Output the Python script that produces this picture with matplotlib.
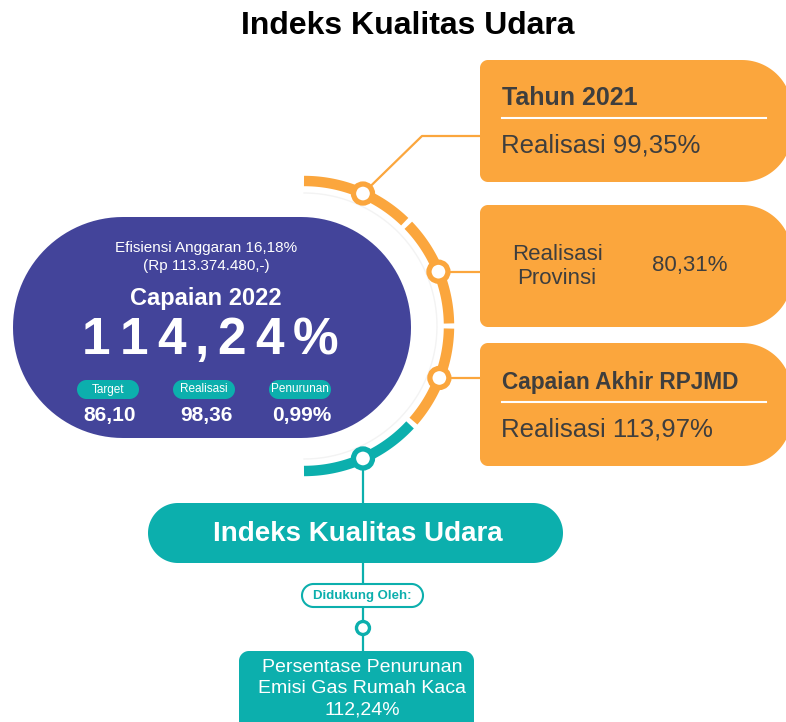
import numpy as np
from matplotlib import pyplot as plt
from matplotlib.patches import Polygon, Circle

plt.rcParams['font.family'] = ['Liberation Sans', 'DejaVu Sans']

# ---- data ----
title = "Indeks Kualitas Udara"
efisiensi_pct = "16,18%"
efisiensi_rp = "113.374.480"
capaian_year = 2022
capaian_value = "114,24%"
sub_labels = ["Target", "Realisasi", "Penurunan"]
sub_values = ["86,10", "98,36", "0,99%"]
realisasi_2021 = "99,35%"
realisasi_provinsi = "80,31%"
realisasi_rpjmd = "113,97%"
pendukung_lines = ["Persentase Penurunan", "Emisi Gas Rumah Kaca"]
pendukung_value = "112,24%"

BLUE = '#43449A'
ORANGE = '#FBA63D'
TEAL = '#0CAFAD'
DARK = '#3E3E3E'


def rbox(x0, y0, x1, y1, r, **kw):
    # rounded box in pixel coords (y down), r = (tl, tr, br, bl)
    tl, tr, br, bl = r
    pts = []

    def arc(cx, cy, rad, a0, a1):
        t = np.radians(np.linspace(a0, a1, 30))
        return list(zip(cx + rad * np.cos(t), cy + rad * np.sin(t)))

    pts += arc(x0 + tl, y0 + tl, tl, 180, 270)
    pts += arc(x1 - tr, y0 + tr, tr, 270, 360)
    pts += arc(x1 - br, y1 - br, br, 0, 90)
    pts += arc(x0 + bl, y1 - bl, bl, 90, 180)
    return Polygon(pts, closed=True, **kw)


fig = plt.figure(figsize=(7.86, 7.22), dpi=100)
ax = fig.add_axes([0, 0, 1, 1])
ax.set_xlim(0, 786)
ax.set_ylim(722, 0)
ax.axis('off')

ax.text(408, 26, title, ha='center', va='center', fontsize=23, fontweight='bold', color='black')

# ---- ring ----
cx, cy, R = 304, 326, 145


def on_ring(a, rad=R):
    t = np.radians(a)
    return cx + rad * np.cos(t), cy - rad * np.sin(t)


t = np.radians(np.linspace(-90, 90, 200))
ax.plot(cx + 133 * np.cos(t), cy - 133 * np.sin(t), color='#F3F3F3', lw=1, zorder=1)

segments = [(90, 46, ORANGE), (44, 1, ORANGE), (-1, -41, ORANGE), (-43, -90, TEAL)]
for a0, a1, col in segments:
    aa = np.linspace(a0, a1, 60)
    xs, ys = on_ring(aa)
    ax.plot(xs, ys, color=col, lw=7.5, solid_capstyle='butt', zorder=3)

# connectors
n1, n2, n3, n4 = on_ring(66), on_ring(22), on_ring(-21), on_ring(-66)
ax.plot([n1[0], 422, 480], [n1[1], 136, 136], color=ORANGE, lw=1.6, zorder=2)
ax.plot([n2[0], 480], [n2[1], n2[1]], color=ORANGE, lw=1.6, zorder=2)
ax.plot([n3[0], 480], [n3[1], n3[1]], color=ORANGE, lw=1.6, zorder=2)
ax.plot([n4[0], n4[0]], [n4[1], 655], color=TEAL, lw=1.6, zorder=2)

for (x, y), col in zip([n1, n2, n3, n4], [ORANGE, ORANGE, ORANGE, TEAL]):
    ax.add_patch(Circle((x, y), 9.5, facecolor='white', edgecolor=col, lw=3.8, zorder=4))

# ---- blue capsule ----
ax.add_patch(rbox(13, 217, 411, 438, (110, 110, 110, 110), facecolor=BLUE, edgecolor='none', zorder=5))
ax.text(206, 248, "Efisiensi Anggaran " + efisiensi_pct, ha='center', va='center',
        fontsize=11, color='white', zorder=6)
ax.text(206, 266, "(Rp " + efisiensi_rp + ",-)", ha='center', va='center',
        fontsize=11, color='white', zorder=6)
ax.text(206, 299, "Capaian %d" % capaian_year, ha='center', va='center',
        fontsize=17, fontweight='bold', color='white', zorder=6)

# big number with letter spacing
renderer = fig.canvas.get_renderer()
parts = []
for ch in capaian_value:
    tx = ax.text(0, 341, ch, ha='left', va='center', fontsize=37, fontweight='bold',
                 color='white', zorder=6)
    parts.append((tx, tx.get_window_extent(renderer).width))
spacing = 9
total = sum(w for _, w in parts) + spacing * (len(parts) - 1)
x = 210 - total / 2
for tx, w in parts:
    tx.set_x(x)
    x += w + spacing

for i, (lab, val) in enumerate(zip(sub_labels, sub_values)):
    px = 108 + i * 96
    ax.add_patch(rbox(px - 31, 380, px + 31, 399, (9.5,) * 4, facecolor=TEAL, edgecolor='none', zorder=6))
    ax.text(px, 389.5, lab, ha='center', va='center', fontsize=8.5, color='white', zorder=7)
    ax.text(px + 2, 416, val, ha='center', va='center', fontsize=15, fontweight='bold',
            color='white', zorder=7)

# ---- orange boxes ----
for y0, y1 in [(60, 182), (205, 327), (343, 466)]:
    ax.add_patch(rbox(480, y0, 792, y1, (8, 50, 50, 8), facecolor=ORANGE, edgecolor='none', zorder=5))

ax.text(502, 98, "Tahun 2021", ha='left', va='center', fontsize=18, fontweight='bold', color=DARK, zorder=6)
ax.plot([502, 766], [118, 118], color='white', lw=1.5, zorder=6)
ax.text(501, 145, "Realisasi " + realisasi_2021, ha='left', va='center', fontsize=18.5, color=DARK, zorder=6)

ax.text(557, 255, "Realisasi", ha='center', va='center', fontsize=16, color=DARK, zorder=6)
ax.text(557, 278, "Provinsi", ha='center', va='center', fontsize=16, color=DARK, zorder=6)
ax.text(690, 265, realisasi_provinsi, ha='center', va='center', fontsize=16, color=DARK, zorder=6)

ax.text(502, 383, "Capaian Akhir RPJMD", ha='left', va='center', fontsize=16.3, fontweight='bold',
        color=DARK, zorder=6)
ax.plot([502, 766], [402, 402], color='white', lw=1.5, zorder=6)
ax.text(501, 429, "Realisasi " + realisasi_rpjmd, ha='left', va='center', fontsize=18.5, color=DARK, zorder=6)

# ---- bottom part ----
ax.add_patch(rbox(148, 503, 563, 563, (30,) * 4, facecolor=TEAL, edgecolor='none', zorder=5))
ax.text(358, 534, title, ha='center', va='center', fontsize=20, fontweight='bold', color='white', zorder=6)

ax.add_patch(rbox(302, 584, 423, 607, (11.5,) * 4, facecolor='white', edgecolor=TEAL, lw=1.5, zorder=5))
ax.text(362, 596, "Didukung Oleh:", ha='center', va='center', fontsize=9.5, fontweight='bold',
        color=TEAL, zorder=6)

ax.add_patch(Circle((n4[0], 628), 6.5, facecolor='white', edgecolor=TEAL, lw=2.4, zorder=5))

ax.add_patch(rbox(239, 651, 474, 745, (10,) * 4, facecolor=TEAL, edgecolor='none', zorder=5))
for k, line in enumerate(pendukung_lines + [pendukung_value]):
    ax.text(362, 667 + 21.5 * k, line, ha='center', va='center', fontsize=14, color='white', zorder=6)

fig.savefig('out.png', dpi=100)
